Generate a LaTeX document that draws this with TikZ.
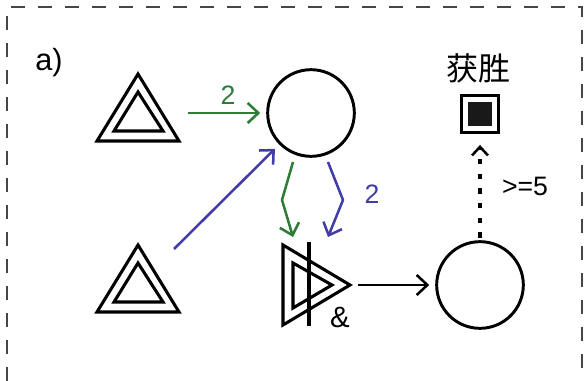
\documentclass[tikz,border=0pt]{standalone}
\usepackage{fontspec}
\setmainfont{Liberation Sans}
\newfontfamily\cjk{Noto Sans CJK SC}
\usetikzlibrary{arrows.meta}
\definecolor{arrgreen}{RGB}{45,125,55}
\definecolor{arrblue}{RGB}{65,60,170}
\definecolor{bordergray}{RGB}{70,70,70}
\begin{document}
\begin{tikzpicture}[x=0.75pt,y=-0.75pt,
  shapeline/.style={line width=2.3pt, line join=miter},
  conn/.style={line width=1.9pt, -{Straight Barb[length=8pt,width=15pt]}},
  ring/.style={circle, draw, line width=2.2pt, minimum size=65pt, inner sep=0pt},
  lbl/.style={font=\fontsize{20}{24}\selectfont, inner sep=0pt},
]
\useasboundingbox (0,0) rectangle (585,381);
% dashed frame (open at the bottom)
\draw[bordergray, line width=1.5pt, dash pattern=on 10.5pt off 9.75pt]
  (7,381) -- (7,7) -- (582,7) -- (582,381);

\node[font=\fontsize{23}{27}\selectfont, inner sep=0pt] (lab) at (49,63) {a)};

% input triangles
\coordinate (t1) at (138,118);
\draw[shapeline] (138,74) -- (179,141) -- (97,141) -- cycle;
\draw[shapeline] (138,92) -- (163,131) -- (114,131) -- cycle;
\coordinate (t2) at (138,289);
\draw[shapeline] (138,245) -- (179,312) -- (97,312) -- cycle;
\draw[shapeline] (138,263) -- (163,302) -- (114,302) -- cycle;

% circles
\node[ring] (c1) at (311,113) {};
\node[ring] (c2) at (480,285) {};

% AND gate
\draw[shapeline] (283,245) -- (350,285) -- (283,325) -- cycle;
\draw[shapeline] (293,263) -- (332,285) -- (293,308) -- cycle;
\draw[shapeline] (309,242) -- (309,326);
\coordinate (gtip) at (350,285);
\node[font=\fontsize{22}{26}\selectfont, inner sep=0pt] (amp) at (340,317) {\&};

% win square
\node[draw, line width=2.4pt, minimum size=28pt, inner sep=0pt] (win) at (480,114) {};
\node[fill=black!90, minimum size=18pt, inner sep=0pt] (wincore) at (win.center) {};
\node[font=\cjk\fontsize{24}{28}\selectfont, inner sep=0pt] (wintxt) at (478,68) {获胜};

% connectors
\coordinate (g1s) at (188,113);
\draw[conn, arrgreen] (g1s) -- (c1) [shorten >=4.5pt];
\node[lbl, text=arrgreen] (lg) at (228,95) {2};

\coordinate (b1s) at (174,249);
\draw[conn, arrblue] (b1s) -- (c1) [shorten >=4.5pt];

\coordinate (g2s) at (293,162);
\coordinate (g2m) at (282,200);
\coordinate (g2e) at (293,237);
\draw[conn, arrgreen, line join=round] (g2s) -- (g2m) -- (g2e);

\coordinate (b2s) at (328,162);
\coordinate (b2m) at (343,200);
\coordinate (b2e) at (328,237);
\draw[conn, arrblue, line join=round] (b2s) -- (b2m) -- (b2e);
\node[lbl, text=arrblue] (lb) at (372,194) {2};

\draw[conn] (gtip) -- (c2) [shorten <=6pt, shorten >=4.5pt];

\draw[line width=2.4pt, dash pattern=on 4pt off 7pt, -{Straight Barb[length=6.5pt,width=12pt,line width=1.9pt]}]
  (c2.north) -- (win.south) [shorten <=2pt, shorten >=8pt];
\node[lbl] (l5) at (525,186) {>=5};
\end{tikzpicture}
\end{document}
